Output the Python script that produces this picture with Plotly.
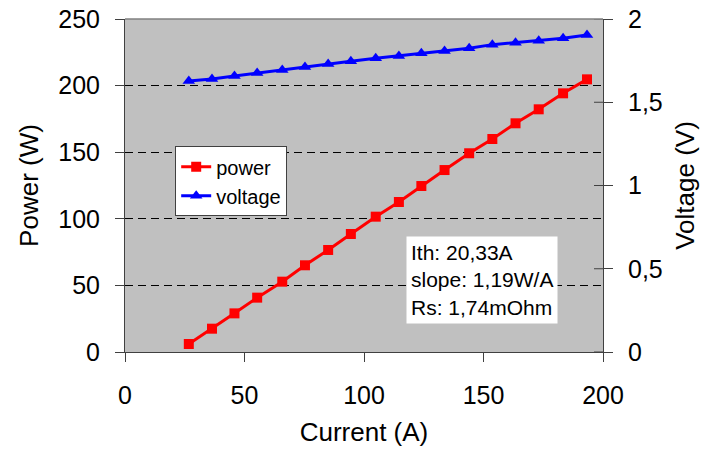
import plotly.graph_objects as go

current = [26.7, 36.4, 45.8, 55.3, 65.8, 75.3, 85.0, 94.5, 104.9, 114.6,
           124.0, 133.7, 144.0, 153.7, 163.4, 173.1, 183.3, 193.3]
power = [6.0, 17.5, 29.0, 40.8, 52.8, 65.1, 76.6, 88.6, 101.6, 112.6,
         124.6, 136.6, 149.2, 159.9, 171.7, 182.2, 194.2, 204.7]
voltage = [1.628, 1.640, 1.658, 1.676, 1.694, 1.712, 1.730, 1.746, 1.764, 1.778,
           1.794, 1.808, 1.824, 1.846, 1.858, 1.870, 1.884, 1.904]

x_ticks = [0, 50, 100, 150, 200]
y_ticks = [0, 50, 100, 150, 200, 250]
y2_ticks = [0, 0.5, 1, 1.5, 2]
info_lines = ["Ith: 20,33A", "slope: 1,19W/A", "Rs: 1,74mOhm"]

FONT = "Liberation Sans, Arial, sans-serif"
AXC = "#404040"

fig = go.Figure()
fig.add_trace(go.Scatter(
    x=current, y=power, name="power", mode="lines+markers",
    line=dict(color="#ff0000", width=3),
    marker=dict(symbol="square", size=10, color="#ff0000"),
))
fig.add_trace(go.Scatter(
    x=current, y=voltage, name="voltage", mode="lines+markers", yaxis="y2",
    line=dict(color="#0000ff", width=3),
    marker=dict(symbol="triangle-up", size=11, color="#0000ff"),
))

# inner half of the right axis' crossing ticks
plot_w = 710 - 125 - 107
shapes = []
for t in y2_ticks:
    shapes.append(dict(type="line", xref="paper", yref="y2",
                       x0=1 - 9 / plot_w, x1=1, y0=t, y1=t,
                       line=dict(color=AXC, width=1)))
shapes.append(dict(type="line", xref="paper", yref="paper", x0=0, x1=1, y0=1, y1=1,
                   line=dict(color="#808080", width=1.5)))

fig.update_layout(
    width=710, height=454,
    margin=dict(l=125, r=107, t=19, b=102, pad=0, autoexpand=False),
    paper_bgcolor="white", plot_bgcolor="#c0c0c0",
    separators=",.",
    font=dict(family=FONT, color="black"),
    showlegend=True,
    legend=dict(x=0.105, y=0.618, xanchor="left", yanchor="top",
                bgcolor="white", bordercolor=AXC, borderwidth=1,
                font=dict(size=20, family=FONT), tracegroupgap=0,
                itemwidth=30),
    xaxis=dict(range=[0, 200], tickvals=x_ticks, showgrid=False, zeroline=False,
               showline=True, linecolor=AXC, linewidth=1, automargin=False,
               ticks="outside", ticklen=9, tickcolor=AXC,
               tickfont=dict(size=25), ticklabelstandoff=12,
               title=dict(text="Current (A)", font=dict(size=26), standoff=14)),
    yaxis=dict(range=[0, 250], tickvals=y_ticks, showgrid=True, gridcolor="black",
               griddash="8px,5px", gridwidth=1, zeroline=False,
               showline=True, linecolor=AXC, linewidth=1, automargin=False,
               ticks="outside", ticklen=9, tickcolor=AXC,
               tickfont=dict(size=25), ticklabelstandoff=10,
               title=dict(text="Power (W)", font=dict(size=26), standoff=12)),
    yaxis2=dict(range=[0, 2], tickvals=y2_ticks, overlaying="y", side="right",
                showgrid=False, zeroline=False, automargin=False,
                showline=True, linecolor=AXC, linewidth=1,
                ticks="outside", ticklen=9, tickcolor=AXC,
                tickfont=dict(size=25), ticklabelstandoff=10,
                title=dict(text="Voltage (V)", font=dict(size=26), standoff=14)),
    shapes=shapes,
    annotations=[dict(
        xref="paper", yref="paper", x=0.746, y=0.216,
        xanchor="center", yanchor="middle", align="left",
        text="<br>".join(info_lines), showarrow=False,
        font=dict(size=21, family=FONT, color="black"),
        bgcolor="white", borderpad=4,
    )],
)

fig.write_html("out.html")
